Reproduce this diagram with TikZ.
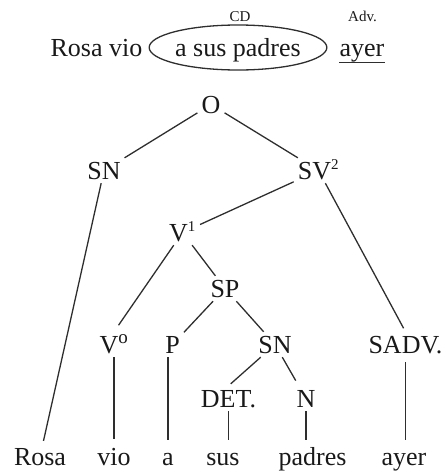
\documentclass[tikz,border=0pt]{standalone}
\usepackage{fontspec}
\setmainfont{Liberation Serif}
\usetikzlibrary{shapes.geometric,calc}
\newcommand\supx[1]{\textsuperscript{\fontsize{15}{15}\selectfont #1}}
\newcommand\supo[1]{\textsuperscript{\fontsize{19}{19}\selectfont #1}}
\begin{document}
\begin{tikzpicture}[x=1pt,y=-1pt,
  lab/.style={font=\fontsize{26}{30}\selectfont, text=black!90, inner sep=4pt, text height=17pt, text depth=0pt, anchor=base},
  small/.style={font=\fontsize{15}{18}\selectfont, text=black!90, inner sep=0pt, anchor=base},
  edge/.style={draw=black!82, line width=1.3pt}]
\useasboundingbox (0,0) rectangle (447,472);
% sentence on top
\node[lab] (s1) at (96.5,56) {Rosa vio};
\node[lab, ellipse, draw=black!82, line width=1.3pt, minimum width=170pt, minimum height=45pt, inner sep=0pt] (s2) at (238,56) {a sus padres};
\node[lab, inner sep=0pt, text depth=6pt] (s3) at (362,56) {ayer};
\draw[edge] (s3.south west) -- (s3.south east);
\node[small] (cd) at (240,21) {CD};
\node[small] (adv) at (362.5,21) {Adv.};
% tree nodes
\node[lab] (O) at (211,113) {O};
\node[lab] (SN1) at (104,179) {SN};
\node[lab] (SV2) at (318.5,179) {SV\supx{2}};
\node[lab] (V1) at (182.5,241) {V\supx{1}};
\node[lab] (SP) at (225,297) {SP};
\node[lab] (V0) at (114,353) {V\supo{o}};
\node[lab] (P) at (172.5,353) {P};
\node[lab] (SN2) at (275,353) {SN};
\node[lab] (SADV) at (405.5,353) {SADV.};
\node[lab] (DET) at (228.5,407) {DET.};
\node[lab] (N) at (306,407) {N};
% words
\node[lab] (Rosa) at (40,465) {Rosa};
\node[lab] (vio) at (114,465) {vio};
\node[lab] (a) at (168,465) {a};
\node[lab] (sus) at (223,465) {sus};
\node[lab] (padres) at (312.5,465) {padres};
\node[lab] (ayer) at (404,465) {ayer};
% edges
\draw[edge] (O) -- (SN1);
\draw[edge] (O) -- (SV2);
\draw[edge, shorten >=3pt] (SN1) -- (Rosa);
\draw[edge] (SV2) -- (V1);
\draw[edge, shorten >=4pt] (SV2) -- (SADV.north);
\draw[edge, shorten >=8pt] (V1) -- (V0.north);
\draw[edge] (V1) -- (SP);
\draw[edge] (SP) -- (P);
\draw[edge] (SP) -- (SN2);
\draw[edge, shorten >=3pt] (SN2) -- (DET.north);
\draw[edge, shorten >=6pt] (SN2) -- (N);
\draw[edge, shorten >=5pt] (V0.south -| vio.north) -- (vio.north);
\draw[edge, shorten >=4pt] (P.south -| a.north) -- (a.north);
\draw[edge, shorten >=4pt] (DET.south) -- (DET.south |- sus.north);
\draw[edge, shorten >=4pt] (N.south) -- (N.south |- padres.north);
\draw[edge, shorten <=5pt, shorten >=4pt] (SADV.south) -- (SADV.south |- ayer.north);
\end{tikzpicture}
\end{document}
